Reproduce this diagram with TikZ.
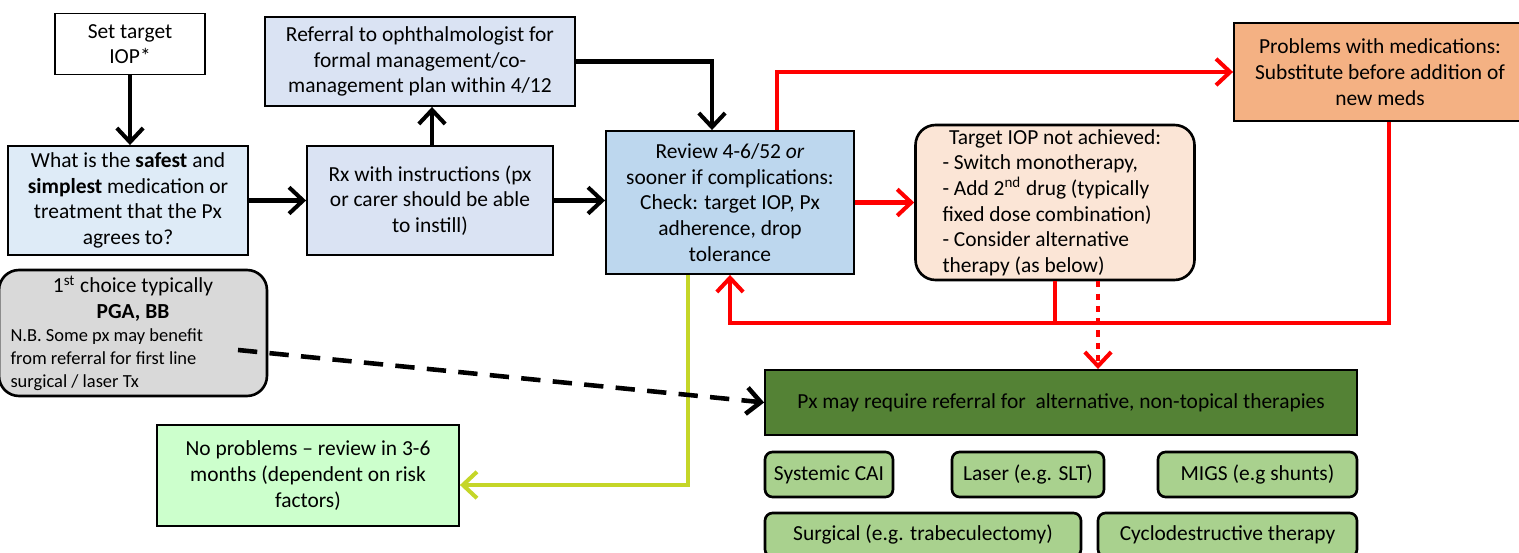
\documentclass[tikz,border=0pt]{standalone}
\usepackage{fontspec}
\setmainfont{Carlito}
\usetikzlibrary{arrows.meta}

\definecolor{paleblue}{RGB}{222,235,247}
\definecolor{greyblue}{RGB}{218,227,243}
\definecolor{midblue}{RGB}{189,215,238}
\definecolor{peach}{RGB}{251,229,214}
\definecolor{orangebox}{RGB}{244,177,131}
\definecolor{lightgrey}{RGB}{217,217,217}
\definecolor{mintgreen}{RGB}{204,255,204}
\definecolor{darkgreen}{RGB}{84,130,53}
\definecolor{leafgreen}{RGB}{169,209,142}
\definecolor{limeline}{RGB}{197,214,40}

\tikzset{
  box/.style={draw, line width=1.1pt, align=center, inner sep=0pt, font=\fontsize{12.2}{14.6}\selectfont},
  roundbox/.style={box, rounded corners=0.4cm, line width=1.5pt},
  optbox/.style={box, rounded corners=0.15cm, line width=1.5pt, fill=leafgreen},
  flow/.style={line width=2.3pt, -{Straight Barb[length=8pt,width=15pt]}},
}

\begin{document}
\begin{tikzpicture}[x=0.02cm, y=-0.02cm]
    \useasboundingbox (0,0) rectangle (1519,553);

    % left column
    \node[box, fill=white, minimum width=3cm, minimum height=1.22cm] (target) at (130,44) {Set target\\IOP*};
    \node[box, fill=paleblue, minimum width=4.8cm, minimum height=2.18cm] (safest) at (128,200.5)
        {What is the \textbf{safest} and\\\textbf{simplest} medication or\\treatment that the Px\\agrees to?};
    \node[roundbox, fill=lightgrey, minimum width=5.36cm, minimum height=2.52cm] (first) at (133,333)
        {\parbox{4.9cm}{\centering 1\textsuperscript{st} choice typically\\\textbf{PGA, BB}\par
         \raggedright\fontsize{10.5}{13}\selectfont N.B. Some px may benefit\\from referral for first line\\surgical / laser Tx}};
    \node[box, fill=mintgreen, minimum width=6.04cm, minimum height=2.02cm] (noprob) at (308,475.5)
        {No problems -- review in 3-6\\months (dependent on risk\\factors)};

    % middle
    \node[box, fill=greyblue, minimum width=4.92cm, minimum height=2.18cm] (rx) at (430,200.5)
        {Rx with instructions (px\\or carer should be able\\to instill)};
    \node[box, fill=greyblue, minimum width=6.2cm, minimum height=1.78cm] (referral) at (420,61.5)
        {Referral to ophthalmologist for\\formal management/co-\\management plan within 4/12};
    \node[box, fill=midblue, minimum width=4.96cm, minimum height=2.86cm] (review) at (730,202.5)
        {Review 4-6/52 \textit{or}\\sooner if complications:\\Check: target IOP, Px\\adherence, drop\\tolerance};

    % right
    \node[roundbox, fill=peach, minimum width=5.58cm, minimum height=3.1cm] (notach) at (1055,202.5)
        {\parbox{4.5cm}{\centering Target IOP not achieved:\par\raggedright
         - Switch monotherapy,\\- Add 2\textsuperscript{nd} drug (typically\\fixed dose combination)\\- Consider alternative\\therapy (as below)}};
    \node[box, fill=orangebox, minimum width=5.84cm, minimum height=1.96cm] (probs) at (1380,72)
        {Problems with medications:\\Substitute before addition of\\new meds};

    % alternative therapies
    \node[box, fill=darkgreen, minimum width=11.84cm, minimum height=1.3cm] (altref) at (1061,402.5)
        {Px may require referral for\ \ alternative, non-topical therapies};
    \node[optbox, minimum width=2.56cm, minimum height=0.9cm] (cai) at (829,474.5) {Systemic CAI};
    \node[optbox, minimum width=3.04cm, minimum height=0.9cm] (laser) at (1028,474.5) {Laser (e.g. SLT)};
    \node[optbox, minimum width=3.98cm, minimum height=0.9cm] (migs) at (1257.5,474.5) {MIGS (e.g shunts)};
    \node[optbox, minimum width=6.32cm, minimum height=0.88cm] (surg) at (923,535) {Surgical (e.g. trabeculectomy)};
    \node[optbox, minimum width=5.18cm, minimum height=0.88cm] (cyclo) at (1227.5,535) {Cyclodestructive therapy};

    % points the connectors bend at
    \coordinate (rxup) at (432,0);
    \coordinate (revin) at (712,0);
    \coordinate (revout) at (777,0);
    \coordinate (revdown) at (688,0);
    \coordinate (probout) at (1389,0);
    \coordinate (loopy) at (0,323);
    \coordinate (notout) at (1055,0);
    \coordinate (notdot) at (1098,0);
    \coordinate (noin) at (0,485);
    \coordinate (dashstart) at (238,350);

    % black flow
    \draw[flow] (target.south) -- (target.south |- safest.north);
    \draw[flow] (safest.east) -- (rx.west);
    \draw[flow] (rxup |- rx.north) -- (rxup |- referral.south);
    \draw[flow] (rx.east) -- (review.west |- rx.east);
    \draw[flow] (referral.east) -| (revin |- review.north);

    % red loops
    \draw[flow, red] (review.east) -- (notach.west |- review.east);
    \draw[flow, red] (revout |- review.north) |- (probs.west);
    \draw[flow, red] (probout |- probs.south) |- (loopy -| review.south) -- (review.south);
    \draw[red, line width=2.3pt] (notout |- notach.south) -- (notout |- loopy);
    \draw[flow, red, dash pattern=on 3.5pt off 3.5pt] (notdot |- notach.south) -- (notdot |- altref.north);

    % other outcomes
    \draw[flow, limeline] (revdown |- review.south) |- (noprob.east |- noin);
    \draw[flow, line width=2.6pt, dash pattern=on 11pt off 7pt] (dashstart) -- (altref.west);
\end{tikzpicture}
\end{document}
